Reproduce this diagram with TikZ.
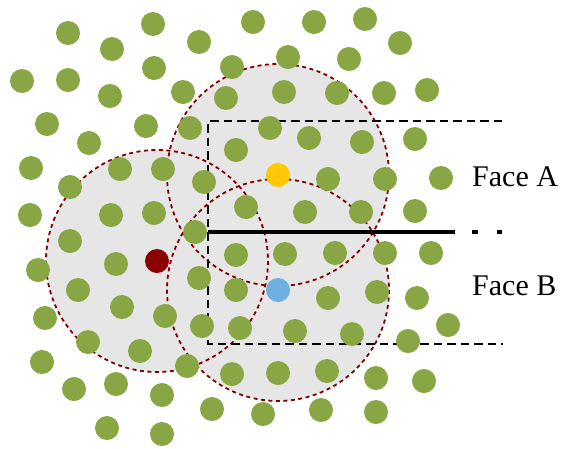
\documentclass[tikz,border=0pt]{standalone}
\usepackage{fontspec}
\setmainfont{Liberation Serif}
\newfontfamily\labelfont{Liberation Serif}
\definecolor{dotgreen}{RGB}{136,166,67}
\definecolor{regiongray}{RGB}{230,230,230}
\definecolor{circred}{RGB}{128,0,0}
\definecolor{ptyellow}{RGB}{255,200,0}
\definecolor{ptblue}{RGB}{112,176,224}
\definecolor{ptred}{RGB}{139,0,0}
\tikzset{
  gdot/.style={fill=dotgreen},
  nbhd/.style={draw=circred, line width=1.8pt, dash pattern=on 4pt off 3.5pt},
  boxline/.style={draw=black, line width=1.8pt, dash pattern=on 8.5pt off 5pt},
  cutline/.style={draw=black, line width=3.6pt},
  facelabel/.style={anchor=base west, inner sep=0pt, font=\labelfont\fontsize{30}{36}\selectfont}
}
\begin{document}
\begin{tikzpicture}[x=1pt,y=-1pt]
\useasboundingbox (0,0) rectangle (564,448);
% neighbourhood regions
\fill[regiongray] (157,261) circle (111);
\fill[regiongray] (278,175) circle (111);
\fill[regiongray] (278,290) circle (111);
\draw[nbhd] (157,261) circle (111);
\draw[nbhd] (278,175) circle (111);
\draw[nbhd] (278,290) circle (111);
% faces
\draw[boxline] (502,121) -- (208,121) -- (208,344) -- (503,344);
\coordinate (cutL) at (208,232);
\coordinate (cutM) at (455,232);
\coordinate (cutR) at (502,232);
\draw[cutline] (cutL) -- (cutM);
\draw[black, line width=3.6pt, dash pattern=on 0pt off 17pt on 6pt off 19pt on 6pt] (cutM) -- (cutR);
% green points
\foreach \p in {
(68,33),(112,49),(153,24),(199,42),(253,22),(314,22),(365,19),(400,43),(288,57),(349,59),
(22,81),(68,80),(110,96),(154,68),(183,92),(232,67),(226,98),(284,92),(337,93),(384,93),(427,90),
(47,124),(89,143),(146,126),(190,128),(270,128),(309,138),(362,142),(415,139),
(236,150),
(31,168),(70,187),(120,169),(163,169),(204,182),(328,179),(385,179),(441,178),
(246,207),(305,212),(361,212),(415,211),
(30,215),(111,215),(154,213),
(195,232),(70,241),
(116,264),(38,270),(236,255),(285,254),(335,253),(385,253),(431,253),
(199,278),(236,290),(78,290),(328,298),(377,292),(417,298),
(122,307),(165,316),(45,318),(202,326),(240,328),(295,331),(352,334),(408,341),(448,325),
(88,342),(140,351),(42,362),(187,366),(232,374),(278,373),(327,371),(376,378),(424,381),
(74,389),(116,384),(162,395),(212,409),(263,414),(321,410),(376,412),
(107,428),(162,434)}
  \fill[gdot] \p circle (12);
% highlighted points
\node[circle, fill=ptred, minimum size=24pt, inner sep=0pt] (pred) at (157,261) {};
\node[circle, fill=ptyellow, minimum size=24pt, inner sep=0pt] (pyellow) at (278,175) {};
\node[circle, fill=ptblue, minimum size=24pt, inner sep=0pt] (pblue) at (278,290) {};
% labels
\node[facelabel] (faceA) at (472,186) {Face A};
\node[facelabel] (faceB) at (472,295) {Face B};
\end{tikzpicture}
\end{document}
